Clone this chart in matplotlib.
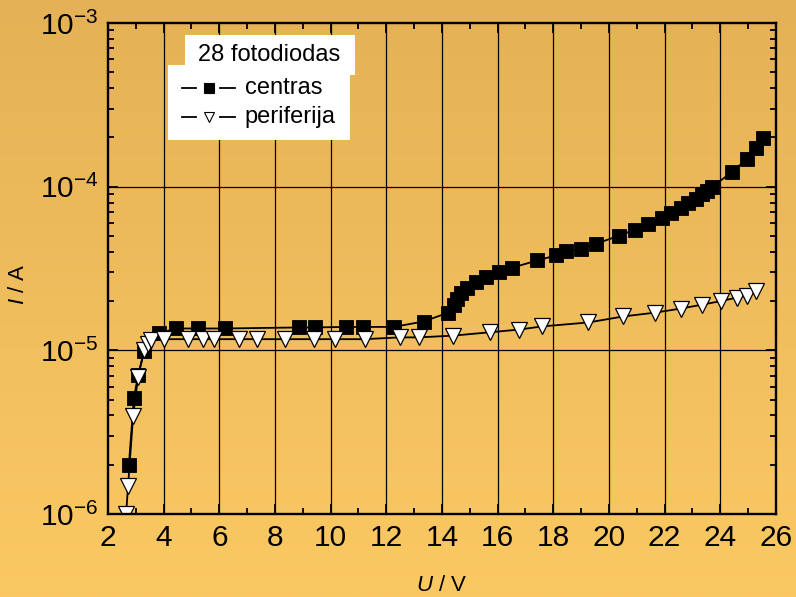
import numpy as np
import matplotlib
matplotlib.use("Agg")
import matplotlib.pyplot as plt
from matplotlib.ticker import LogLocator, MultipleLocator, NullFormatter
from matplotlib.patches import Rectangle

# Current-voltage data of the photodiode array (28 fotodiodas)
u_centras = [2.75, 2.93, 3.08, 3.30, 3.83, 4.44, 5.23, 6.20, 8.85, 9.43, 10.54,
             11.18, 12.26, 13.34, 14.23, 14.45, 14.53, 14.70, 14.91, 15.24, 15.60,
             16.06, 16.53, 17.42, 18.10, 18.47, 19.00, 19.54, 20.37, 20.94, 21.41,
             21.91, 22.23, 22.60, 22.86, 23.13, 23.36, 23.54, 23.72, 24.43, 24.96,
             25.28, 25.53]
i_centras = [2.0e-6, 5.1e-6, 7.05e-6, 9.9e-6, 1.27e-5, 1.36e-5, 1.36e-5, 1.36e-5,
             1.38e-5, 1.38e-5, 1.39e-5, 1.39e-5, 1.39e-5, 1.50e-5, 1.70e-5, 1.90e-5,
             2.05e-5, 2.23e-5, 2.39e-5, 2.60e-5, 2.82e-5, 2.99e-5, 3.20e-5, 3.54e-5,
             3.80e-5, 4.02e-5, 4.18e-5, 4.48e-5, 5.02e-5, 5.47e-5, 5.94e-5, 6.47e-5,
             6.93e-5, 7.44e-5, 7.98e-5, 8.46e-5, 9.06e-5, 9.46e-5, 1.00e-4, 1.23e-4,
             1.48e-4, 1.73e-4, 1.99e-4]

u_periferija = [2.65, 2.72, 2.90, 3.08, 3.30, 3.43, 3.54, 4.00, 4.87, 5.40, 5.80,
                6.70, 7.35, 8.35, 9.39, 10.14, 11.22, 12.48, 13.16, 14.41, 15.74,
                16.78, 17.60, 19.26, 20.51, 21.66, 22.59, 23.34, 24.03, 24.60, 24.96,
                25.28]
i_periferija = [1.0e-6, 1.48e-6, 3.96e-6, 6.9e-6, 1.0e-5, 1.1e-5, 1.15e-5, 1.17e-5,
                1.17e-5, 1.17e-5, 1.17e-5, 1.17e-5, 1.17e-5, 1.17e-5, 1.17e-5, 1.17e-5,
                1.17e-5, 1.20e-5, 1.20e-5, 1.23e-5, 1.29e-5, 1.34e-5, 1.40e-5, 1.48e-5,
                1.61e-5, 1.70e-5, 1.80e-5, 1.90e-5, 2.00e-5, 2.10e-5, 2.16e-5, 2.29e-5]

x_ticks = [2, 4, 6, 8, 10, 12, 14, 16, 18, 20, 22, 24, 26]
y_ticks = [1e-6, 1e-5, 1e-4, 1e-3]
y_ticklabels = [r"$10^{-6}$", r"$10^{-5}$", r"$10^{-4}$", r"$10^{-3}$"]
legend_title = "28 fotodiodas"
legend_labels = ["centras", "periferija"]

plt.rcParams["font.family"] = ["Liberation Sans", "DejaVu Sans"]
plt.rcParams["mathtext.fontset"] = "custom"
plt.rcParams["mathtext.rm"] = "Liberation Sans"
plt.rcParams["mathtext.it"] = "Liberation Sans:italic"

fig = plt.figure(figsize=(7.96, 5.97), dpi=100)

# Warm vertical gradient background
bg = fig.add_axes([0, 0, 1, 1], zorder=-10)
top = np.array([228, 177, 86]) / 255
bot = np.array([251, 201, 99]) / 255
t = np.linspace(0, 1, 256)[:, None]
grad = top[None, :] * (1 - t) + bot[None, :] * t
bg.imshow(grad[:, None, :], aspect="auto", extent=[0, 1, 0, 1], origin="upper")
bg.set_axis_off()

ax = fig.add_axes([0.1357, 0.139, 0.839, 0.8225])
ax.set_facecolor("none")
ax.set_yscale("log")
ax.set_xlim(2, 26)
ax.set_ylim(1e-6, 1e-3)

# grid at the major positions
for xv in x_ticks[1:-1]:
    ax.axvline(xv, color="black", lw=0.9, zorder=1)
for yv in y_ticks[1:-1]:
    ax.axhline(yv, color="black", lw=0.9, zorder=1)

ax.plot(u_centras, i_centras, color="black", lw=1.3, marker="s", ms=10,
        mfc="black", mec="black", mew=0.6, zorder=3)
ax.plot(u_periferija, i_periferija, color="black", lw=1.3, marker="v", ms=11,
        mfc="white", mec="black", mew=0.9, zorder=4)

ax.set_xticks(x_ticks)
ax.xaxis.set_minor_locator(MultipleLocator(1))
ax.set_yticks(y_ticks)
ax.set_yticklabels(y_ticklabels)
ax.yaxis.set_minor_locator(LogLocator(base=10, subs=np.arange(2, 10), numticks=20))
ax.yaxis.set_minor_formatter(NullFormatter())

ax.tick_params(which="both", direction="in", top=True, right=True, width=1.3,
               labelsize=21.5, color="black")
ax.tick_params(which="major", length=7, pad=7)
ax.tick_params(which="minor", length=4)
for s in ax.spines.values():
    s.set_linewidth(1.7)
    s.set_zorder(6)

ax.set_xlabel(r"$U$ / V", fontsize=16, labelpad=17)
ax.set_ylabel(r"$I$ / A", fontsize=16)
ax.yaxis.set_label_coords(-0.118, 0.468)

# Legend boxes and entries
tr = ax.transAxes
ax.add_patch(Rectangle((0.115, 0.894), 0.255, 0.082, transform=tr,
                       facecolor="white", edgecolor="none", zorder=7))
ax.add_patch(Rectangle((0.090, 0.762), 0.272, 0.152, transform=tr,
                       facecolor="white", edgecolor="none", zorder=7))
ax.text(0.2405, 0.935, legend_title, transform=tr, ha="center", va="center",
        fontsize=17, zorder=8)
rows = [0.867, 0.808]
styles = [dict(marker="s", mfc="black", mec="black"),
          dict(marker="v", mfc="white", mec="black")]
for yy, lab, st in zip(rows, legend_labels, styles):
    ax.plot([0.111, 0.132], [yy, yy], transform=tr, color="black", lw=1.3,
            zorder=8, clip_on=False)
    ax.plot([0.168, 0.190], [yy, yy], transform=tr, color="black", lw=1.3,
            zorder=8, clip_on=False)
    ax.plot([0.1505], [yy], transform=tr, ls="none", ms=6.5, mew=0.8, zorder=9,
            clip_on=False, **st)
    ax.text(0.205, yy, lab, transform=tr, ha="left", va="center",
            fontsize=17, zorder=8)

fig.savefig("out.png", dpi=100)
